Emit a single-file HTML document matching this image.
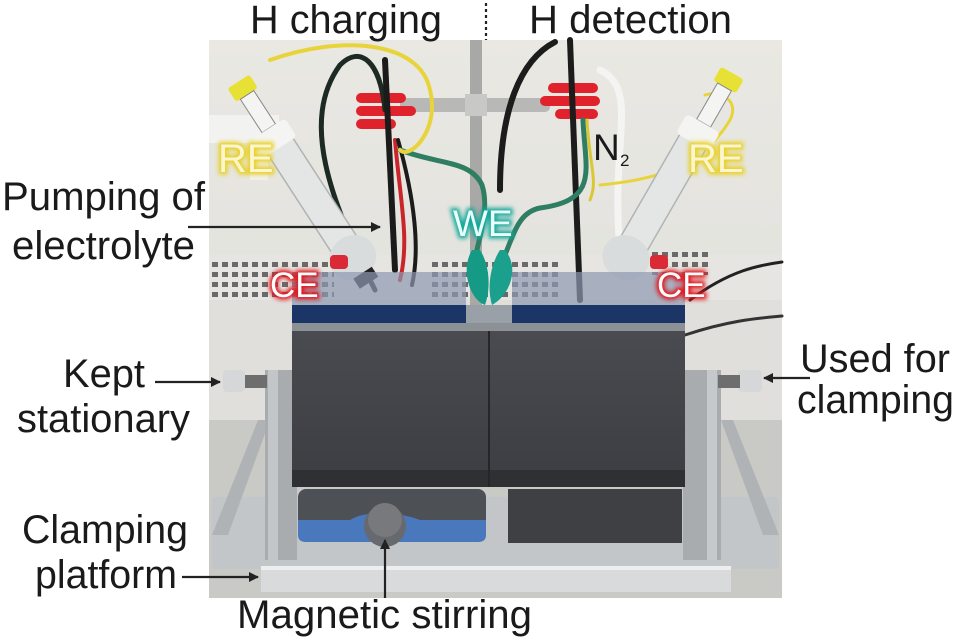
<!DOCTYPE html>
<html><head><meta charset="utf-8"><style>
html,body{margin:0;padding:0;background:#fff;}
svg{display:block;}
text{font-family:"Liberation Sans",Arial,sans-serif;}
</style></head><body>
<svg width="957" height="644" viewBox="0 0 957 644" xmlns="http://www.w3.org/2000/svg">
<defs>
<filter id="glow" x="-30%" y="-30%" width="160%" height="160%"><feGaussianBlur stdDeviation="2.2"/></filter>
<marker id="ah" markerWidth="10" markerHeight="10" refX="9" refY="5" orient="auto" markerUnits="userSpaceOnUse"><path d="M0,0 L10,5 L0,10 Z" fill="#222"/></marker>
<linearGradient id="wall" x1="0" y1="0" x2="0" y2="1"><stop offset="0" stop-color="#e9e8e3"/><stop offset="1" stop-color="#dcdcd8"/></linearGradient>
<linearGradient id="blk" x1="0" y1="0" x2="0" y2="1"><stop offset="0" stop-color="#4a4b50"/><stop offset="1" stop-color="#3c3d42"/></linearGradient>
<pattern id="vent" width="10" height="10" patternUnits="userSpaceOnUse"><rect width="10" height="10" fill="#e6e5e1"/><rect x="2" y="2" width="6" height="5" fill="#6a6a6a"/></pattern>
</defs>

<!-- photo background -->
<rect x="209" y="40" width="573" height="558" fill="url(#wall)"/>
<rect x="209" y="255" width="573" height="45" fill="#e6e5e1"/>
<rect x="209" y="258" width="125" height="40" fill="url(#vent)"/>
<rect x="430" y="258" width="130" height="40" fill="url(#vent)"/>
<rect x="650" y="250" width="60" height="25" fill="url(#vent)"/>
<rect x="209" y="300" width="573" height="130" fill="#e0dfdb"/>
<rect x="209" y="420" width="573" height="178" fill="#c9c9c6"/>
<!-- white pipe left -->
<rect x="209" y="115" width="70" height="28" fill="#f2f2f0"/>
<rect x="250" y="140" width="18" height="40" fill="#f0f0ee"/>

<!-- stand rod and clamp bar -->
<rect x="470" y="40" width="12" height="270" fill="#a8a8a6"/>
<rect x="400" y="98" width="150" height="14" rx="5" fill="#b8b8b6"/>
<rect x="465" y="94" width="22" height="22" fill="#c8c8c6"/>
<!-- red clamps -->
<g fill="#e0222c">
<rect x="356" y="93" width="50" height="10" rx="5"/><rect x="356" y="106" width="60" height="10" rx="5"/><rect x="356" y="119" width="40" height="10" rx="5"/>
<rect x="548" y="83" width="50" height="10" rx="5"/><rect x="540" y="96" width="60" height="10" rx="5"/><rect x="555" y="109" width="43" height="10" rx="5"/>
</g>
<!-- cables -->
<g fill="none" stroke-linecap="round">
<path d="M375,290 C330,200 300,120 340,65 C360,45 380,60 385,110" stroke="#1d2a24" stroke-width="5"/>
<path d="M385,60 L395,270" stroke="#1b1b1b" stroke-width="6"/>
<path d="M395,140 C400,200 410,240 400,280" stroke="#c9252b" stroke-width="4"/>
<path d="M398,140 C415,200 420,250 412,285" stroke="#1b1b1b" stroke-width="4"/>
<path d="M400,150 C440,165 470,160 482,185 C490,210 478,240 475,260" stroke="#2f7d63" stroke-width="5"/>
<path d="M270,60 C340,35 420,40 430,90 C440,130 410,160 400,150" stroke="#e8d43a" stroke-width="4"/>
<path d="M570,40 L580,300" stroke="#1c1c1c" stroke-width="6"/>
<path d="M555,42 C520,60 500,110 500,190" stroke="#1c1c1c" stroke-width="6"/>
<path d="M583,120 C585,170 600,200 540,208 C520,212 515,230 505,255" stroke="#2f7d63" stroke-width="5"/>
<path d="M587,120 C590,170 598,180 590,200" stroke="#d9c833" stroke-width="3"/>
<path d="M600,70 C640,90 610,140 620,250" stroke="#f4f4f2" stroke-width="7"/>
<path d="M600,185 C650,180 700,170 730,120 C740,100 720,90 705,95" stroke="#e8d43a" stroke-width="3"/>
<path d="M690,300 C730,270 760,265 782,262" stroke="#222" stroke-width="3"/>
<path d="M685,335 C730,320 760,318 782,316" stroke="#333" stroke-width="3"/>
</g>
<!-- left electrode -->
<g transform="rotate(-33 310 190)">
<rect x="296" y="60" width="26" height="16" rx="3" fill="#e8e135"/>
<rect x="301" y="76" width="16" height="40" fill="#f4f4f2" stroke="#888" stroke-width="1"/>
<rect x="294" y="116" width="30" height="150" rx="10" fill="#e4e6e6" stroke="#b0b4b4" stroke-width="1.5"/>
<rect x="290" y="116" width="38" height="22" rx="4" fill="#f4f4f2"/>
<ellipse cx="309" cy="270" rx="24" ry="22" fill="#d8dcdc"/>
<rect x="298" y="288" width="22" height="12" fill="#222"/>
</g>
<!-- right electrode -->
<g transform="rotate(30 665 190)">
<rect x="652" y="55" width="26" height="16" rx="3" fill="#e8e135"/>
<rect x="657" y="71" width="16" height="42" fill="#f4f4f2" stroke="#888" stroke-width="1"/>
<rect x="650" y="113" width="30" height="150" rx="10" fill="#e4e6e6" stroke="#b0b4b4" stroke-width="1.5"/>
<rect x="646" y="113" width="38" height="22" rx="4" fill="#f4f4f2"/>
<ellipse cx="665" cy="268" rx="24" ry="22" fill="#d8dcdc"/>
</g>
<!-- CE small red connectors -->
<rect x="330" y="255" width="18" height="14" rx="4" fill="#d92a36"/>
<rect x="650" y="255" width="18" height="14" rx="4" fill="#d92a36"/>

<!-- platform -->
<rect x="212" y="497" width="567" height="72" rx="4" fill="#c3c6c8"/>
<polygon points="212,535 258,420 270,420 228,535" fill="#b0b3b6"/>
<polygon points="779,535 733,420 721,420 763,535" fill="#b0b3b6"/>
<rect x="261" y="566" width="470" height="26" fill="#d9dadb"/>
<rect x="261" y="566" width="470" height="4" fill="#eeeeef"/>
<!-- side frames -->
<rect x="265" y="370" width="32" height="190" fill="#a9acaf"/>
<rect x="268" y="370" width="10" height="190" fill="#c3c6c8"/>
<rect x="683" y="370" width="38" height="190" fill="#a9acaf"/>
<rect x="707" y="370" width="10" height="190" fill="#c6c9cb"/>
<!-- screws -->
<rect x="223" y="370" width="22" height="22" rx="4" fill="#d6d7d8"/>
<rect x="245" y="375" width="22" height="13" fill="#6e6e6e"/>
<rect x="738" y="370" width="24" height="22" rx="4" fill="#d6d7d8"/>
<rect x="718" y="375" width="22" height="13" fill="#6e6e6e"/>

<!-- blue top plates -->
<rect x="292" y="272" width="174" height="36" fill="#8d98b0" opacity="0.7"/>
<rect x="512" y="272" width="173" height="36" fill="#8d98b0" opacity="0.7"/>
<rect x="292" y="305" width="174" height="18" fill="#1a3566"/>
<rect x="512" y="305" width="173" height="18" fill="#1a3566"/>
<rect x="466" y="305" width="46" height="20" fill="#9aa0a8"/>
<rect x="292" y="323" width="393" height="8" fill="#8c9196"/>
<!-- dark blocks -->
<rect x="292" y="331" width="196" height="156" fill="url(#blk)"/>
<rect x="490" y="331" width="195" height="156" fill="url(#blk)"/>
<rect x="292" y="470" width="393" height="17" fill="#2f3034"/>
<rect x="488" y="331" width="2" height="156" fill="#25262a"/>
<!-- WE green clips -->
<path d="M472,250 C460,270 470,300 485,305 C492,285 488,262 480,250 Z" fill="#159a86"/>
<path d="M505,250 C520,268 510,295 492,305 C486,285 492,262 500,250 Z" fill="#1aa08c"/>
<!-- stirrer -->
<rect x="298" y="489" width="188" height="51" rx="8" fill="#4d5055"/>
<path d="M298,520 L350,520 C365,510 400,512 420,520 L486,520 L486,535 Q486,542 478,542 L306,542 Q298,542 298,535 Z" fill="#4a78bd"/>
<rect x="508" y="489" width="174" height="54" fill="#3f4044"/>
<circle cx="385" cy="526" r="21" fill="#66696d"/>
<circle cx="385" cy="520" r="17" fill="#77797c"/>

<!-- annotation lines -->
<g stroke="#222" stroke-width="2.2" fill="none">
<line x1="486" y1="3" x2="486" y2="40" stroke-dasharray="3,3"/>
<line x1="188" y1="227" x2="380" y2="227" marker-end="url(#ah)"/>
<line x1="155" y1="382" x2="220" y2="382" marker-end="url(#ah)"/>
<line x1="810" y1="378" x2="764" y2="378" marker-end="url(#ah)"/>
<line x1="182" y1="577" x2="258" y2="577" marker-end="url(#ah)"/>
<line x1="385" y1="598" x2="385" y2="540" marker-end="url(#ah)"/>
</g>

<!-- labels -->
<g fill="#1a1a1a" font-size="40">
<text x="250" y="33" textLength="192" lengthAdjust="spacingAndGlyphs">H charging</text>
<text x="529" y="33" textLength="203" lengthAdjust="spacingAndGlyphs">H detection</text>
<text x="2" y="210" textLength="203" lengthAdjust="spacingAndGlyphs">Pumping of</text>
<text x="12" y="259" textLength="183" lengthAdjust="spacingAndGlyphs">electrolyte</text>
<text x="63" y="387" textLength="82" lengthAdjust="spacingAndGlyphs">Kept</text>
<text x="17" y="432" textLength="173" lengthAdjust="spacingAndGlyphs">stationary</text>
<text x="800" y="372" textLength="150" lengthAdjust="spacingAndGlyphs">Used for</text>
<text x="797" y="413" textLength="157" lengthAdjust="spacingAndGlyphs">clamping</text>
<text x="22" y="543" textLength="166" lengthAdjust="spacingAndGlyphs">Clamping</text>
<text x="35" y="588" textLength="142" lengthAdjust="spacingAndGlyphs">platform</text>
<text x="237" y="628" textLength="295" lengthAdjust="spacingAndGlyphs">Magnetic stirring</text>
<text x="593" y="160" font-size="37">N</text>
<text x="620" y="166" font-size="17">2</text>
</g>
<!-- glowing labels -->
<g font-size="40">
<g stroke="#e8d020" stroke-width="5" fill="#e8d020" filter="url(#glow)">
<text x="218" y="172">RE</text><text x="688" y="172">RE</text></g>
<g fill="#fbf6d0"><text x="218" y="172">RE</text><text x="688" y="172">RE</text></g>
<g stroke="#e0141e" stroke-width="5" fill="#e0141e" filter="url(#glow)" font-size="35">
<text x="270" y="297">CE</text><text x="657" y="297">CE</text></g>
<g fill="#ffffff" font-size="35"><text x="270" y="297">CE</text><text x="657" y="297">CE</text></g>
<g stroke="#12a89a" stroke-width="5" fill="#12a89a" filter="url(#glow)" font-size="37">
<text x="453" y="236">WE</text></g>
<g fill="#e8fffb" font-size="37"><text x="453" y="236">WE</text></g>
</g>
</svg>
</body></html>
